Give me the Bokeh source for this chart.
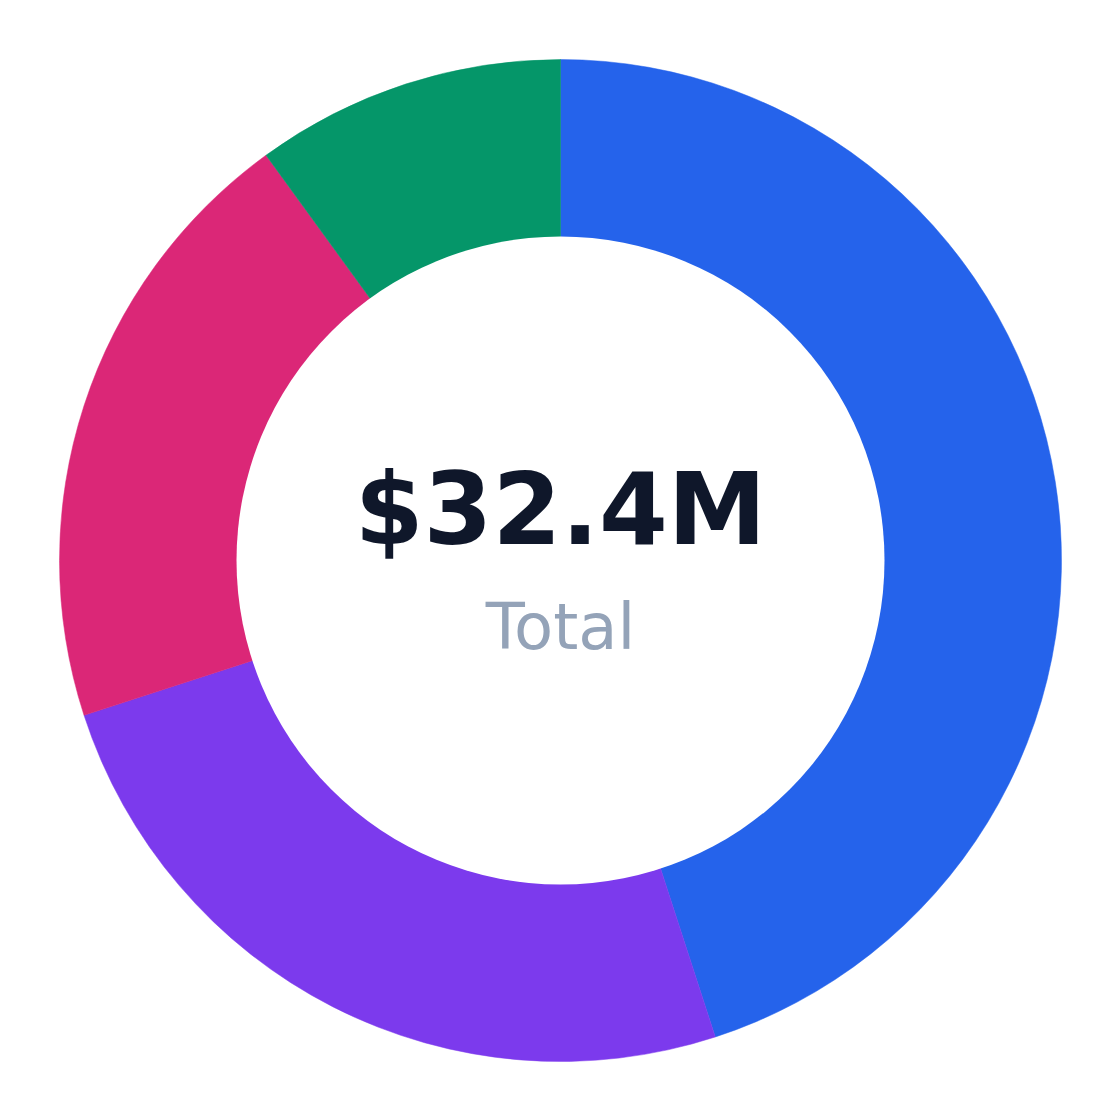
import math
from bokeh.plotting import figure
from bokeh.models import Range1d, ColumnDataSource, Label
from bokeh.embed import file_html
from bokeh.resources import INLINE

categories = ["Segment A", "Segment B", "Segment C", "Segment D"]
values_musd = [14.58, 8.10, 6.48, 3.24]
colors = ["#2563eb", "#7c3aed", "#db2777", "#059669"]
total_label = "$32.4M"
sub_label = "Total"

W = 1104
p = figure(width=W, height=W, output_backend="svg", toolbar_location=None,
           x_range=Range1d(-560, W - 560), y_range=Range1d(560 - W, 560),
           min_border=0)
p.axis.visible = False
p.grid.visible = False
p.outline_line_color = None
p.background_fill_color = "white"

total = sum(values_musd)
starts, ends = [], []
ang = math.pi / 2
for v in values_musd:
    a = v / total * 2 * math.pi
    starts.append(ang - a)
    ends.append(ang)
    ang -= a

src = ColumnDataSource(dict(cat=categories, val=values_musd, color=colors,
                            start=starts, end=ends))
p.wedge(x=0, y=0, radius=501, start_angle="start", end_angle="end",
        fill_color="color", line_color="color", line_width=0.5, source=src)
p.circle(x=[0], y=[0], radius=324, fill_color="white", line_color=None)

p.add_layout(Label(x=0, y=-66, text=sub_label, text_font="DejaVu Sans",
                   text_font_size="64px", text_color="#94a3b8",
                   text_align="center", text_baseline="alphabetic"))
p.add_layout(Label(x=0, y=51, text=total_label,
                   text_font="DejaVu Sans",
                   text_font_style="bold", text_font_size="99px",
                   text_color="#0f172a", text_align="center",
                   text_baseline="alphabetic"))

open("out.html", "w").write(file_html(p, INLINE))
